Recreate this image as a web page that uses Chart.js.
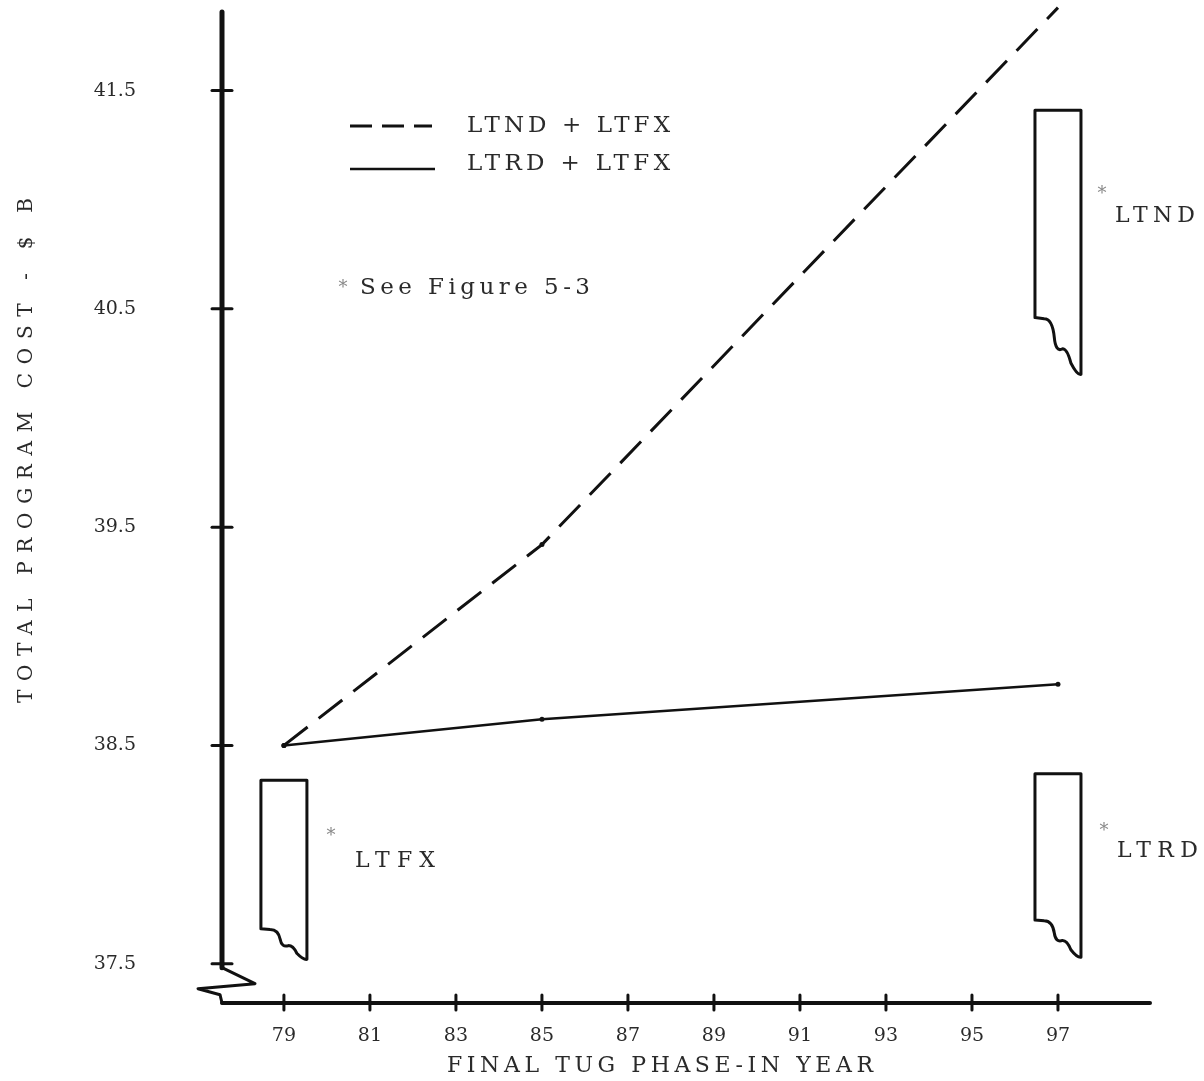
<!DOCTYPE html>
<html>
<head>
<meta charset="utf-8">
<script src="https://cdn.jsdelivr.net/npm/chart.js@4/dist/chart.umd.min.js"></script>
<style>
  html, body { margin: 0; padding: 0; background: #fff; }
  canvas { display: block; }
</style>
</head>
<body>
<canvas id="chart" width="1204" height="1081"></canvas>
<script>
// Données
const years = [79, 85, 97];
const ltndLtfx = [38.5, 39.42, 41.88];
const ltrdLtfx = [38.5, 38.62, 38.78];

const xTicks = [79, 81, 83, 85, 87, 89, 91, 93, 95, 97];
const yTicks = [37.5, 38.5, 39.5, 40.5, 41.5];
const yTickLabels = ['37.5', '38.5', '39.5', '40.5', '41.5'];

// Barres "coupées" (voir figure 5-3)
const breakNames = ['LTFX', 'LTND', 'LTRD'];
const breakYears = [79, 97, 97];
const breakTops = [38.34, 41.41, 38.37];
const breakLeftBottoms = [37.66, 40.46, 37.70];
const breakRightBottoms = [37.52, 40.20, 37.53];

const INK = '#111';
const TEXT = '#2a2a2a';
const SERIF = '"DejaVu Serif", "Liberation Serif", serif';

// Écrit un texte étiré pour qu'il occupe une largeur donnée
function spacedText(ctx, text, x, y, width) {
    ctx.letterSpacing = '0px';
    const w = ctx.measureText(text).width;
    const sp = (width - w) / (text.length - 1);
    ctx.letterSpacing = sp + 'px';
    ctx.textAlign = 'left';
    ctx.fillText(text, x, y);
    ctx.letterSpacing = '0px';
}

function drawBreakBar(ctx, left, right, top, lb, rb) {
    const w = right - left;
    const d = rb - lb;
    ctx.beginPath();
    ctx.moveTo(left, lb);
    ctx.lineTo(left, top);
    ctx.lineTo(right, top);
    ctx.lineTo(right, rb);
    // bas ondulé
    ctx.quadraticCurveTo(right - 0.08 * w, rb + 0.02 * d, left + 0.78 * w, lb + 0.8 * d);
    ctx.quadraticCurveTo(left + 0.7 * w, lb + 0.55 * d, left + 0.6 * w, lb + 0.55 * d);
    ctx.quadraticCurveTo(left + 0.45 * w, lb + 0.62 * d, left + 0.42 * w, lb + 0.35 * d);
    ctx.quadraticCurveTo(left + 0.38 * w, lb + 0.02 * d, left + 0.2 * w, lb + 0.02 * d);
    ctx.lineTo(left, lb);
    ctx.stroke();
}

const decor = {
    id: 'decor',
    afterDraw(chart) {
        const { ctx, chartArea: a, scales: { x, y } } = chart;
        ctx.save();
        ctx.strokeStyle = INK;
        ctx.fillStyle = INK;
        ctx.lineCap = 'round';
        ctx.lineJoin = 'round';

        // Axe Y avec cassure
        const yEnd = y.getPixelForValue(37.5) + 4;
        ctx.lineWidth = 5;
        ctx.beginPath();
        ctx.moveTo(a.left, a.top);
        ctx.lineTo(a.left, yEnd);
        ctx.stroke();
        ctx.lineWidth = 3;
        ctx.beginPath();
        ctx.moveTo(a.left, yEnd);
        ctx.lineTo(a.left + 33, yEnd + 16);
        ctx.lineTo(a.left - 24, yEnd + 21);
        ctx.lineTo(a.left - 2, yEnd + 27);
        ctx.lineTo(a.left, a.bottom);
        ctx.stroke();

        // Axe X
        ctx.lineWidth = 4;
        ctx.beginPath();
        ctx.moveTo(a.left, a.bottom);
        ctx.lineTo(a.right, a.bottom);
        ctx.stroke();

        // Graduations en croix
        ctx.lineWidth = 3;
        yTicks.forEach(v => {
            const py = y.getPixelForValue(v);
            ctx.beginPath();
            ctx.moveTo(a.left - 10, py);
            ctx.lineTo(a.left + 10, py);
            ctx.stroke();
        });
        xTicks.forEach(v => {
            const px = x.getPixelForValue(v);
            ctx.beginPath();
            ctx.moveTo(px, a.bottom - 8);
            ctx.lineTo(px, a.bottom + 7);
            ctx.stroke();
        });

        // Barres coupées
        ctx.lineWidth = 3;
        breakNames.forEach((name, i) => {
            const cx = x.getPixelForValue(breakYears[i]);
            drawBreakBar(ctx, cx - 23, cx + 23,
                y.getPixelForValue(breakTops[i]),
                y.getPixelForValue(breakLeftBottoms[i]),
                y.getPixelForValue(breakRightBottoms[i]));
        });

        // Légende
        ctx.lineWidth = 3;
        ctx.setLineDash([22, 10]);
        ctx.lineCap = 'butt';
        ctx.beginPath();
        ctx.moveTo(350, 126);
        ctx.lineTo(432, 126);
        ctx.stroke();
        ctx.setLineDash([]);
        ctx.lineWidth = 2.5;
        ctx.beginPath();
        ctx.moveTo(350, 169);
        ctx.lineTo(435, 169);
        ctx.stroke();

        ctx.fillStyle = TEXT;
        ctx.textBaseline = 'middle';
        ctx.font = '23px ' + SERIF;
        spacedText(ctx, chart.data.datasets[0].label, 467, 126, 203);
        spacedText(ctx, chart.data.datasets[1].label, 467, 164, 203);

        ctx.font = '23px ' + SERIF;
        spacedText(ctx, 'See Figure 5-3', 360, 288, 230);

        // Étiquettes des barres coupées
        ctx.font = '22px ' + SERIF;
        spacedText(ctx, 'LTFX', 355, 861, 80);
        spacedText(ctx, 'LTND', 1115, 216, 80);
        spacedText(ctx, 'LTRD', 1117, 851, 81);

        // Astérisques
        ctx.fillStyle = '#888';
        ctx.font = '18px ' + SERIF;
        ctx.textAlign = 'center';
        ctx.fillText('*', 343, 288);
        ctx.fillText('*', 331, 836);
        ctx.fillText('*', 1102, 194);
        ctx.fillText('*', 1104, 831);

        // Titres des axes
        ctx.fillStyle = TEXT;
        ctx.font = '22px ' + SERIF;
        spacedText(ctx, 'FINAL TUG PHASE-IN YEAR', 447, 1066, 426);
        ctx.font = '20px ' + SERIF;
        ctx.save();
        ctx.translate(27, 703);
        ctx.rotate(-Math.PI / 2);
        spacedText(ctx, 'TOTAL PROGRAM COST - $ B', 0, 0, 505);
        ctx.restore();

        ctx.restore();
    }
};

const ctx = document.getElementById('chart').getContext('2d');
new Chart(ctx, {
    type: 'line',
    data: {
        datasets: [{
            label: 'LTND + LTFX',
            data: years.map((t, i) => ({ x: t, y: ltndLtfx[i] })),
            borderColor: INK,
            borderWidth: 3,
            borderDash: [30, 14],
            pointRadius: 2.5,
            pointBackgroundColor: INK,
            pointBorderWidth: 0,
            tension: 0,
            clip: false
        }, {
            label: 'LTRD + LTFX',
            data: years.map((t, i) => ({ x: t, y: ltrdLtfx[i] })),
            borderColor: INK,
            borderWidth: 2.5,
            pointRadius: 2.5,
            pointBackgroundColor: INK,
            pointBorderWidth: 0,
            tension: 0,
            clip: false
        }]
    },
    options: {
        responsive: false,
        animation: false,
        devicePixelRatio: 1,
        layout: { padding: { top: 12, right: 54, left: 0, bottom: 0 } },
        plugins: {
            legend: { display: false },
            tooltip: { enabled: false }
        },
        scales: {
            x: {
                type: 'linear',
                min: 77.56,
                max: 99.14,
                afterBuildTicks: s => { s.ticks = xTicks.map(v => ({ value: v })); },
                afterFit: s => { s.height = 78; s.paddingLeft = 0; s.paddingRight = 0; },
                grid: { display: false, drawTicks: false },
                border: { display: false },
                ticks: {
                    color: TEXT,
                    padding: 22,
                    maxRotation: 0,
                    autoSkip: false,
                    font: { family: SERIF, size: 19 },
                    callback: v => String(v)
                }
            },
            y: {
                type: 'linear',
                min: 37.32,
                max: 41.86,
                afterBuildTicks: s => { s.ticks = yTicks.map(v => ({ value: v })); },
                afterFit: s => { s.width = 222; s.paddingTop = 0; s.paddingBottom = 0; },
                grid: { display: false, drawTicks: false },
                border: { display: false },
                ticks: {
                    color: TEXT,
                    padding: 86,
                    autoSkip: false,
                    font: { family: SERIF, size: 19 },
                    callback: v => yTickLabels[yTicks.indexOf(v)]
                }
            }
        }
    },
    plugins: [decor]
});
</script>
</body>
</html>
